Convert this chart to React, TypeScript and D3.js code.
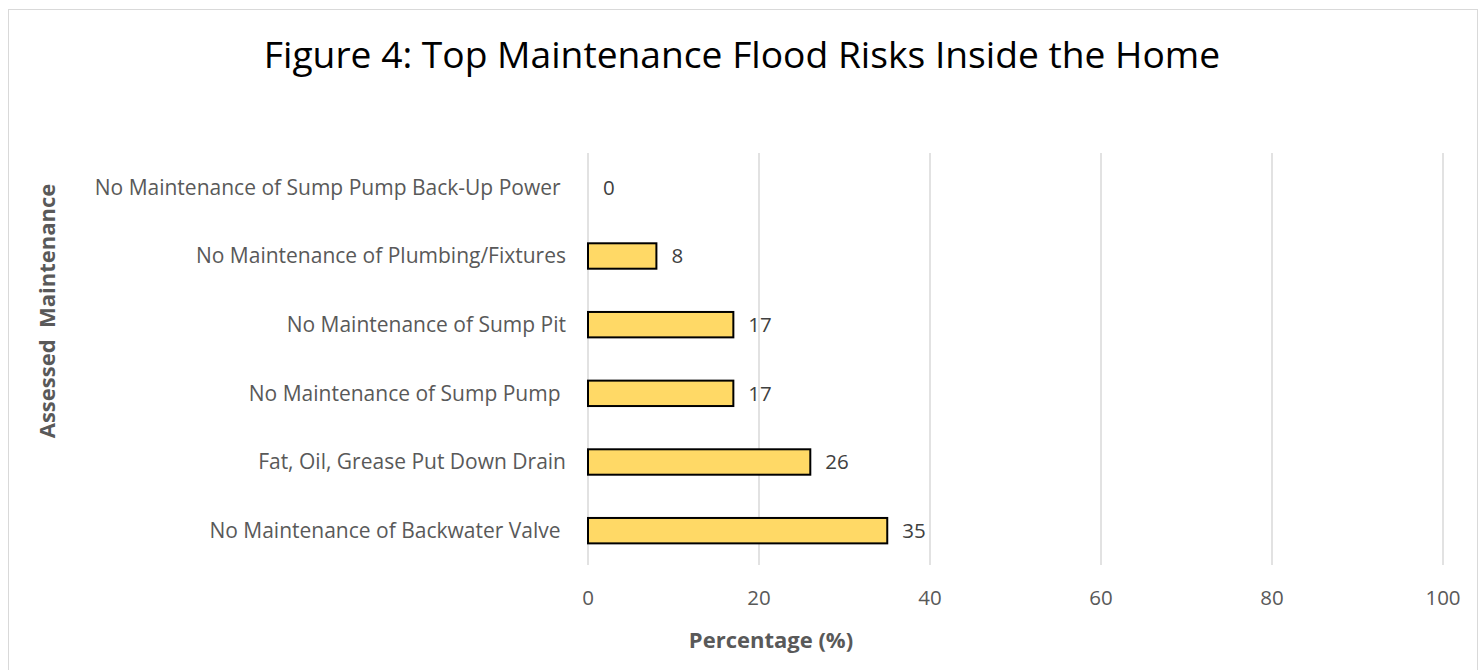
import React from "react";
import * as d3 from "d3";

const categories = [
  "No Maintenance of Sump Pump Back-Up Power ",
  "No Maintenance of Plumbing/Fixtures",
  "No Maintenance of Sump Pit",
  "No Maintenance of Sump Pump ",
  "Fat, Oil, Grease Put Down Drain",
  "No Maintenance of Backwater Valve ",
];
const values = [0, 8, 17, 17, 26, 35];
const xTicks = [0, 20, 40, 60, 80, 100];

const chartTitle = "Figure 4: Top Maintenance Flood Risks Inside the Home";
const xTitle = "Percentage (%)";
const yTitle = "Assessed  Maintenance";

const W = 1484;
const H = 670;
const FONT = "'Open Sans', 'Noto Sans', sans-serif";

export default function App() {
  const plot = { left: 588, right: 1443, top: 153, bottom: 565 };
  const x = d3.scaleLinear().domain([0, 100]).range([plot.left, plot.right]);
  const y = d3
    .scaleBand<string>()
    .domain(categories)
    .range([plot.top, plot.bottom])
    .paddingInner(0.63)
    .paddingOuter(0.315);

  return (
    <svg
      width={W}
      height={H}
      style={{ position: "absolute", left: 0, top: 0, background: "#fff" }}
      fontFamily={FONT}
    >
      {/* chart frame */}
      <rect x={8.5} y={9.5} width={1469} height={700} fill="#fff" stroke="#d9d9d9" strokeWidth={1} />

      <text x={742} y={68} textAnchor="middle" fontSize={37.2} fill="#000">
        {chartTitle}
      </text>

      {/* vertical gridlines */}
      {xTicks.map((t) => (
        <line
          key={t}
          x1={x(t)}
          x2={x(t)}
          y1={plot.top}
          y2={plot.bottom}
          stroke="#d9d9d9"
          strokeWidth={1.5}
        />
      ))}

      {/* bars */}
      {categories.map((c, i) =>
        values[i] > 0 ? (
          <rect
            key={c}
            x={x(0)}
            y={y(c)!}
            width={x(values[i]) - x(0)}
            height={y.bandwidth()}
            fill="#ffd966"
            stroke="#000"
            strokeWidth={2}
          />
        ) : null
      )}

      {/* value labels */}
      {categories.map((c, i) => (
        <text
          key={c}
          x={x(values[i]) + 15}
          y={y(c)! + y.bandwidth() / 2}
          dy="0.35em"
          fontSize={20.5}
          fill="#404040"
        >
          {values[i]}
        </text>
      ))}

      {/* category labels */}
      {categories.map((c) => (
        <text
          key={c}
          x={566}
          y={y(c)! + y.bandwidth() / 2}
          dy="0.35em"
          textAnchor="end"
          fontSize={21}
          fill="#595959"
          style={{ whiteSpace: "pre" }}
        >
          {c}
        </text>
      ))}

      {/* x tick labels */}
      {xTicks.map((t) => (
        <text key={t} x={x(t)} y={598} dy="0.35em" textAnchor="middle" fontSize={20.5} fill="#595959">
          {t}
        </text>
      ))}

      <text x={771} y={640} dy="0.35em" textAnchor="middle" fontSize={22} fontWeight="bold" fill="#595959">
        {xTitle}
      </text>

      <text
        transform={`translate(47,311) rotate(-90)`}
        textAnchor="middle"
        dy="0.35em"
        fontSize={22}
        fontWeight="bold"
        fill="#595959"
        style={{ whiteSpace: "pre" }}
      >
        {yTitle}
      </text>
    </svg>
  );
}
